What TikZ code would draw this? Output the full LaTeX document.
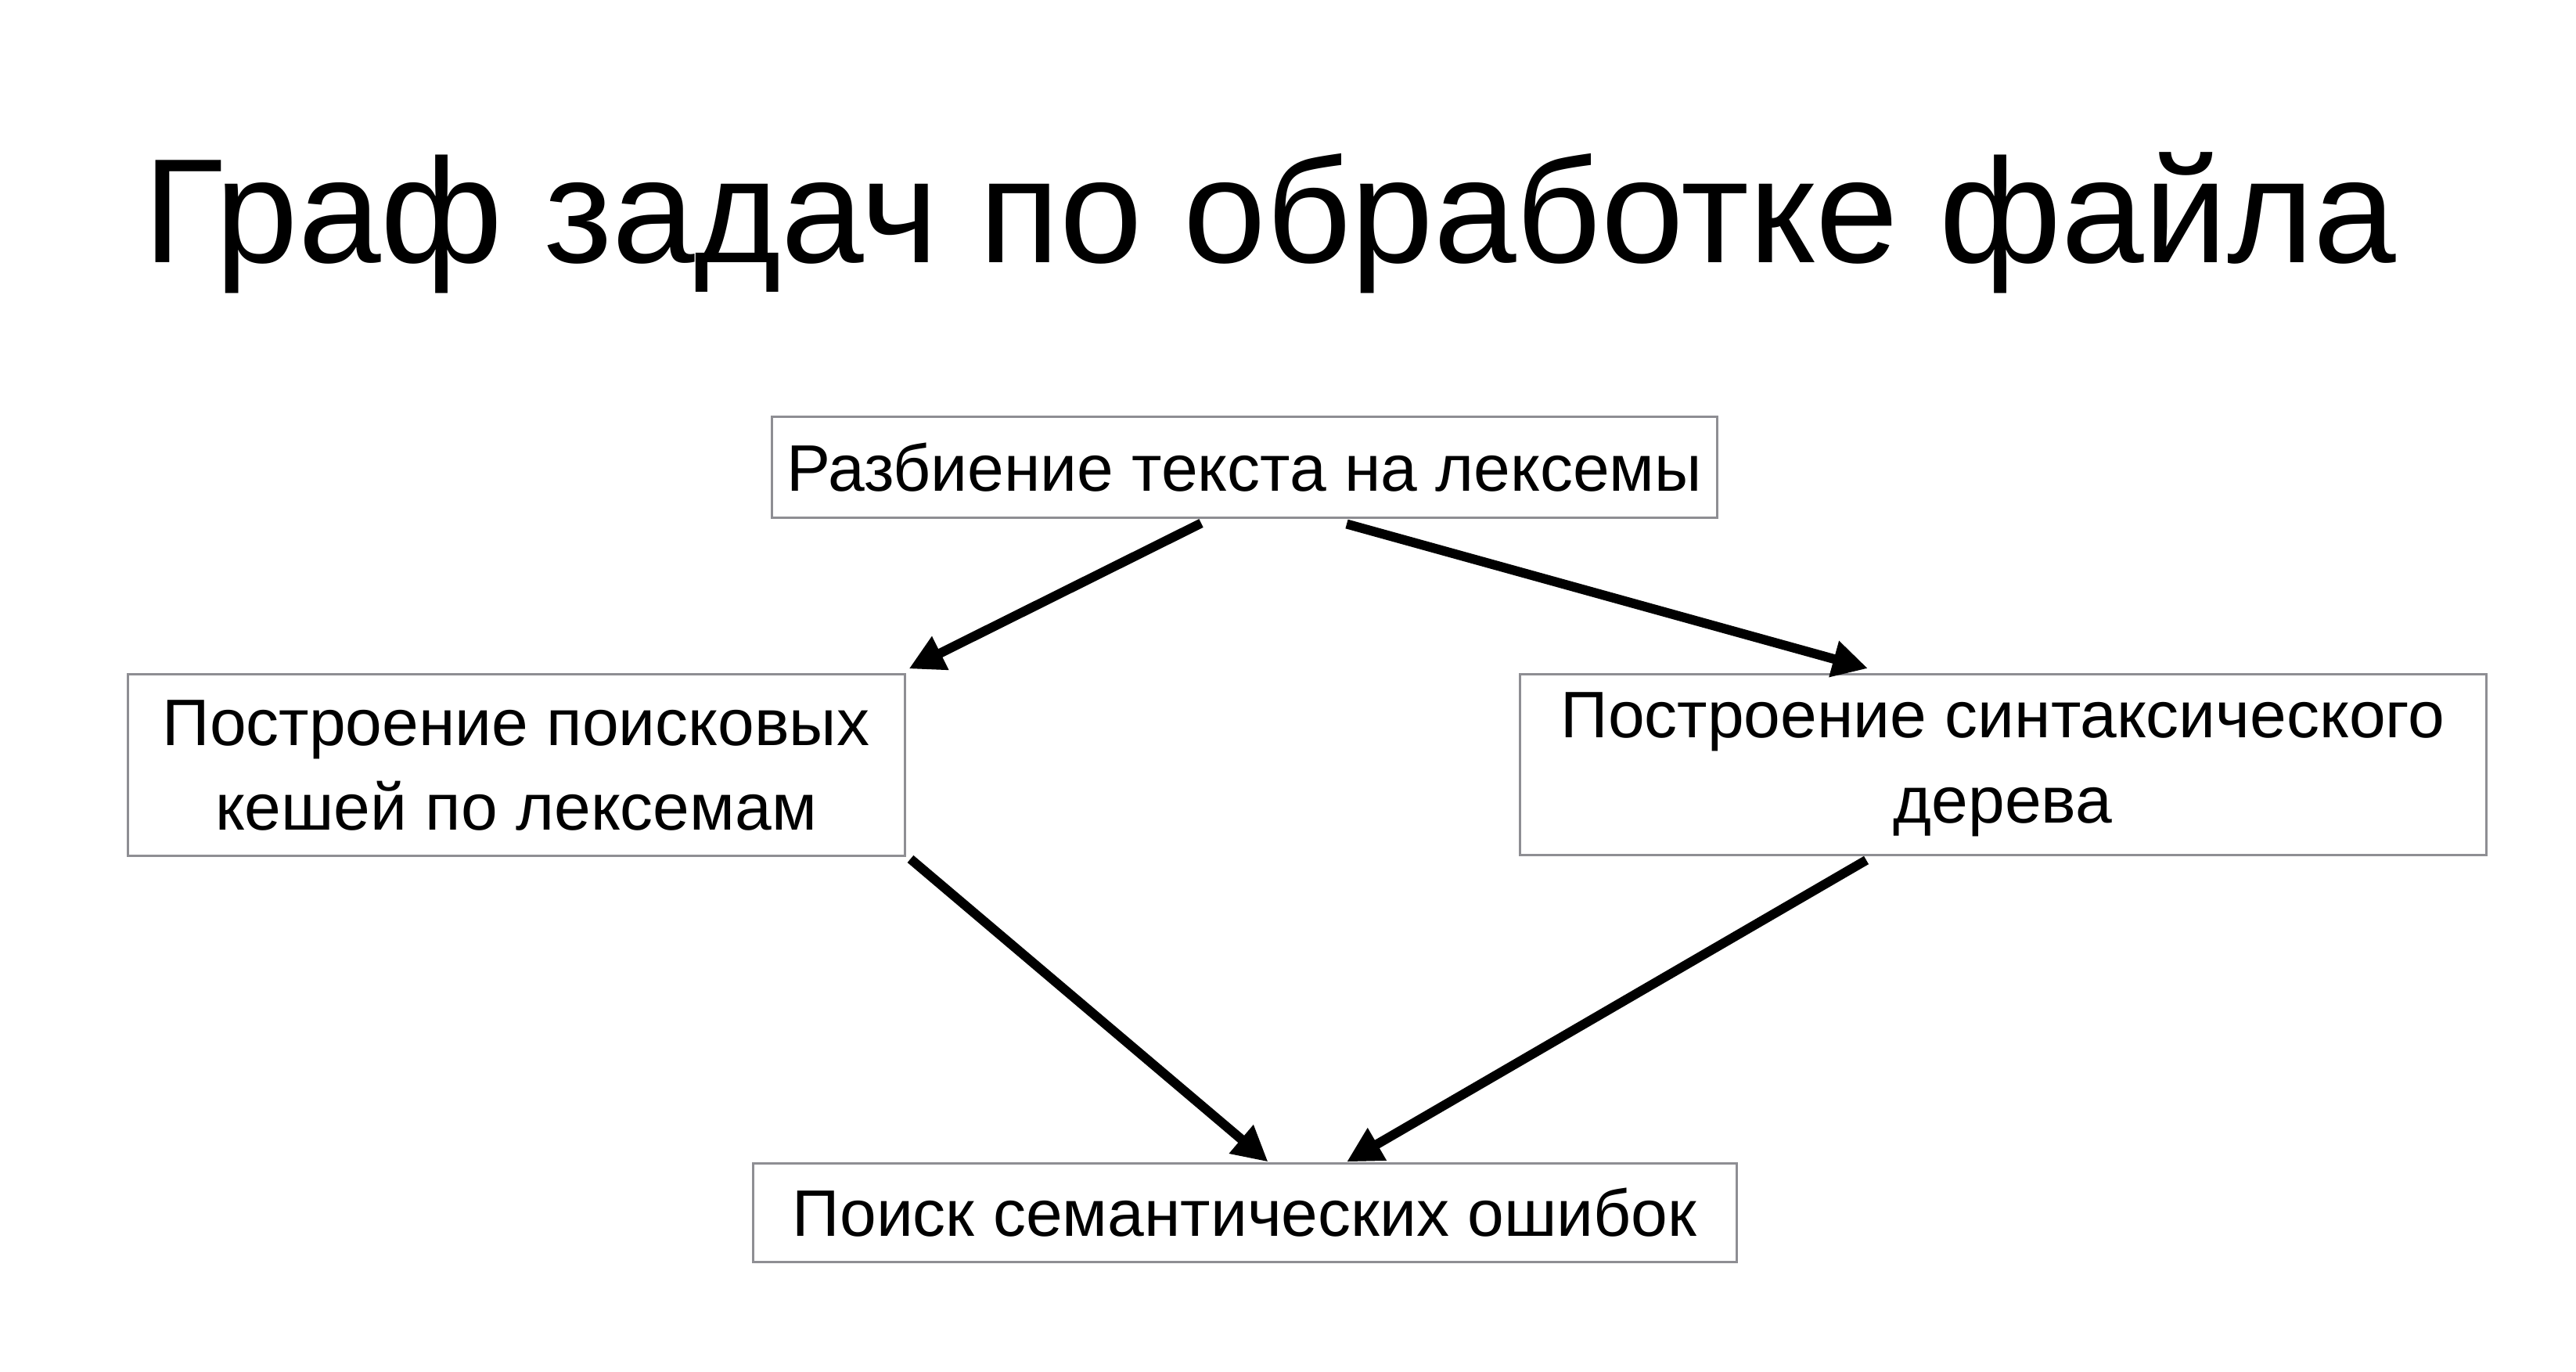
\documentclass[tikz,border=0pt]{standalone}
\usepackage{fontspec}
\setmainfont{Liberation Sans}
\usetikzlibrary{arrows.meta}
\definecolor{boxgray}{RGB}{142,142,147}
\begin{document}
\begin{tikzpicture}[>={Triangle[length=0.45cm,width=0.45cm]},x=1cm,y=1cm,
    task/.style={draw=boxgray,line width=0.03cm,align=center,inner sep=0pt,
        font=\fontsize{23.9}{31}\selectfont},
    arr/.style={->,line width=0.12cm}]
    \useasboundingbox (0,0) rectangle (32.92,17.52);
    % заголовок
    \node[anchor=base,font=\fontsize{54}{60}\selectfont] (title) at (16.23,14.16) {Граф задач по обработке файла};
    \node[task,minimum width=12.08cm,minimum height=1.29cm] (split) at (15.90,11.545) {Разбиение текста на лексемы};
    \node[task,minimum width=9.93cm,minimum height=2.32cm] (caches) at (6.595,7.74) {Построение поисковых\\кешей по лексемам};
    \node[task,minimum width=12.35cm,minimum height=2.31cm] (tree) at (25.595,7.75) {Построение синтаксического\\дерева};
    \node[task,minimum width=12.57cm,minimum height=1.26cm] (search) at (15.905,2.03) {Поиск семантических ошибок};
    \draw[arr] ([xshift=-5.5mm,yshift=-0.5mm]split.south) -- ([shift={(0.4mm,0.6mm)}]caches.north east);
    \draw[arr] ([xshift=13.1mm,yshift=-0.6mm]split.south) -- ([xshift=-17.25mm,yshift=0.6mm]tree.north);
    \draw[arr] ([shift={(0.6mm,-0.2mm)}]caches.south east) -- ([xshift=3mm]search.north);
    \draw[arr] ([xshift=-17.45mm,yshift=-0.5mm]tree.south) -- ([xshift=13.05mm]search.north);
\end{tikzpicture}
\end{document}
